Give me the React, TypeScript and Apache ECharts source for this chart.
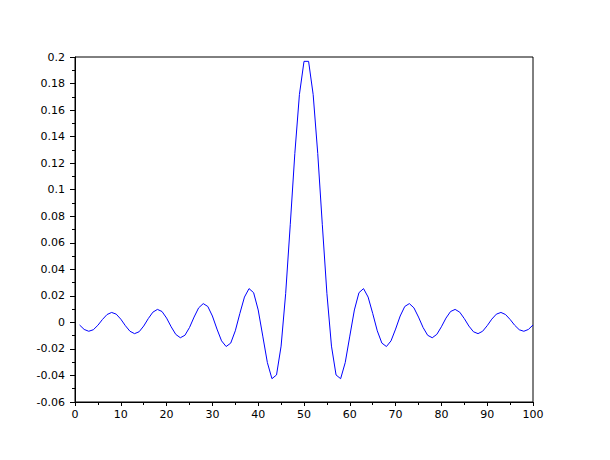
import React, { useEffect, useRef } from "react";
import * as echarts from "echarts";

const sampleIndex: number[] = [
  1, 2, 3, 4, 5, 6, 7, 8, 9, 10,
  11, 12, 13, 14, 15, 16, 17, 18, 19, 20,
  21, 22, 23, 24, 25, 26, 27, 28, 29, 30,
  31, 32, 33, 34, 35, 36, 37, 38, 39, 40,
  41, 42, 43, 44, 45, 46, 47, 48, 49, 50,
  51, 52, 53, 54, 55, 56, 57, 58, 59, 60,
  61, 62, 63, 64, 65, 66, 67, 68, 69, 70,
  71, 72, 73, 74, 75, 76, 77, 78, 79, 80,
  81, 82, 83, 84, 85, 86, 87, 88, 89, 90,
  91, 92, 93, 94, 95, 96, 97, 98, 99, 100,
];

const response: number[] = [
  -0.00199, -0.00531, -0.0067, -0.00554, -0.00216, 0.00221, 0.00592, 0.00749, 0.00621, 0.00243,
  -0.00249, -0.00669, -0.00849, -0.00706, -0.00277, 0.00285, 0.00769, 0.00979, 0.00818, 0.00323,
  -0.00333, -0.00904, -0.01157, -0.00972, -0.00386, 0.00401, 0.01096, 0.01415, 0.01198, 0.0048,
  -0.00504, -0.01392, -0.01819, -0.01561, -0.00635, 0.00678, 0.01908, 0.02546, 0.02239, 0.00937,
  -0.01035, -0.0303, -0.04244, -0.03962, -0.01788, 0.02186, 0.07358, 0.12732, 0.17168, 0.19673,
  0.19673, 0.17168, 0.12732, 0.07358, 0.02186, -0.01788, -0.03962, -0.04244, -0.0303, -0.01035,
  0.00937, 0.02239, 0.02546, 0.01908, 0.00678, -0.00635, -0.01561, -0.01819, -0.01392, -0.00504,
  0.0048, 0.01198, 0.01415, 0.01096, 0.00401, -0.00386, -0.00972, -0.01157, -0.00904, -0.00333,
  0.00323, 0.00818, 0.00979, 0.00769, 0.00285, -0.00277, -0.00706, -0.00849, -0.00669, -0.00249,
  0.00243, 0.00621, 0.00749, 0.00592, 0.00221, -0.00216, -0.00554, -0.0067, -0.00531, -0.00199,
];

const xMin = 0;
const xMax = 100;
const xStep = 10;
const yMin = -0.06;
const yMax = 0.2;
const yStep = 0.02;

export default function App() {
  const ref = useRef<HTMLDivElement>(null);

  useEffect(() => {
    if (!ref.current) return;
    const chart = echarts.init(ref.current, null, { renderer: "svg" });
    const font = "DejaVu Sans";
    chart.setOption({
      animation: false,
      backgroundColor: "#ffffff",
      grid: {
        left: 75,
        top: 57,
        width: 458,
        height: 345,
        show: true,
        borderColor: "#000000",
        borderWidth: 1,
        backgroundColor: "transparent",
      },
      xAxis: {
        type: "value",
        min: xMin,
        max: xMax,
        interval: xStep,
        axisLine: { show: true, onZero: false, lineStyle: { color: "#000000", width: 1 } },
        axisTick: { show: true, inside: false, length: 4, lineStyle: { color: "#000000" } },
        minorTick: { show: true, splitNumber: 2, length: 3, lineStyle: { color: "#000000" } },
        splitLine: { show: false },
        axisLabel: {
          color: "#000000",
          fontFamily: font,
          fontSize: 11,
          margin: 7,
        },
      },
      yAxis: {
        type: "value",
        min: yMin,
        max: yMax,
        interval: yStep,
        axisLine: { show: true, onZero: false, lineStyle: { color: "#000000", width: 1 } },
        axisTick: { show: true, inside: false, length: 5, lineStyle: { color: "#000000" } },
        minorTick: { show: true, splitNumber: 2, length: 3, lineStyle: { color: "#000000" } },
        splitLine: { show: false },
        axisLabel: {
          color: "#000000",
          fontFamily: font,
          fontSize: 11,
          margin: 10,
          formatter: (v: number) => String(+v.toFixed(2)),
        },
      },
      series: [
        {
          type: "line",
          data: sampleIndex.map((x, i) => [x, response[i]]),
          showSymbol: false,
          symbol: "none",
          lineStyle: { color: "#0000ff", width: 1 },
          itemStyle: { color: "#0000ff" },
        },
      ],
    });
    return () => chart.dispose();
  }, []);

  return (
    <div
      ref={ref}
      style={{ position: "fixed", left: 0, top: 0, width: 610, height: 460, background: "#ffffff" }}
    />
  );
}
